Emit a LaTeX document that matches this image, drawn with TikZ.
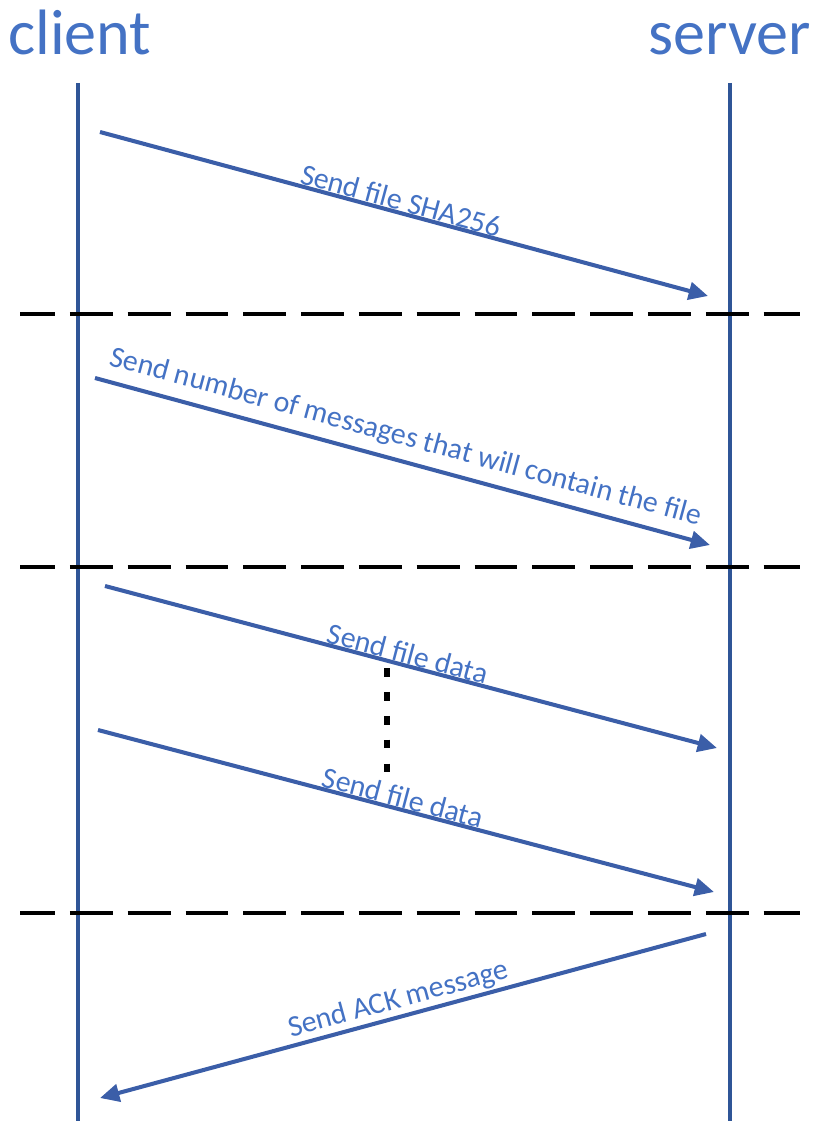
\documentclass[tikz,border=0pt]{standalone}
\usepackage{fontspec}
\setmainfont{Carlito}
\usetikzlibrary{arrows.meta,positioning}
\definecolor{lifeblue}{RGB}{47,85,151}
\definecolor{msgblue}{RGB}{59,94,168}
\definecolor{txtblue}{RGB}{68,114,196}
\tikzset{
	x=0.02cm, y=-0.02cm,
	head/.style = {inner sep=0pt, text=txtblue, font=\fontsize{36.5}{40}\selectfont},
	lifeline/.style = {lifeblue, line width=2.3pt},
	divider/.style = {black, line width=2.3pt, dash pattern=on 24.4pt off 8.5pt, dash phase=4.5pt},
	msg/.style = {msgblue, line width=2.3pt, -{Triangle[length=11pt,width=10pt]}},
	msgtxt/.style = {sloped, above, inner sep=2pt, text=txtblue, font=\fontsize{17}{20}\selectfont}
}
\begin{document}
\begin{tikzpicture}
            \useasboundingbox (0,0) rectangle (814,1121);
            % actors
            \node[head, anchor=base west] (client) at (8,55) {client};
            \node[head, anchor=base east] (server) at (811,55) {server};
            \coordinate (ct) at (78,83);
            \coordinate (cb) at (78,1121);
            \coordinate (st) at (730,83);
            \coordinate (sb) at (730,1121);
            \draw[lifeline] (ct) -- (cb);
            \draw[lifeline] (st) -- (sb);
            % phase separators
            \coordinate (d1l) at (20,314);
            \coordinate (d1r) at (800,314);
            \coordinate (d2l) at (20,567);
            \coordinate (d2r) at (800,567);
            \coordinate (d3l) at (20,913);
            \coordinate (d3r) at (800,913);
            \draw[divider] (d1l) -- (d1r);
            \draw[divider] (d2l) -- (d2r);
            \draw[divider] (d3l) -- (d3r);
            % messages
            \coordinate (m1a) at (100,132);
            \coordinate (m1b) at (708,296);
            \coordinate (m2a) at (95,378);
            \coordinate (m2b) at (710,545);
            \coordinate (m3a) at (105,586);
            \coordinate (m3b) at (717,748);
            \coordinate (m4a) at (98,730);
            \coordinate (m4b) at (714,892);
            \coordinate (m5a) at (100,1098);
            \coordinate (m5b) at (706,934);
            \draw[msg] (m1a) -- node[msgtxt, pos=0.49, inner sep=0pt] (l1) {Send file SHA256} (m1b);
            \draw[msg] (m2a) -- node[msgtxt, pos=0.495, inner sep=5pt] (l2) {Send number of messages that will contain the file} (m2b);
            \draw[msg] (m3a) -- node[msgtxt, pos=0.49, inner sep=0pt] (l3) {Send file data} (m3b);
            \draw[msg] (m4a) -- node[msgtxt, pos=0.49, inner sep=0pt] (l4) {Send file data} (m4b);
            \draw[msg, {Triangle[length=11pt,width=10pt]}-] (m5a) -- node[msgtxt, inner sep=1pt] (l5) {Send ACK message} (m5b);
            % more data messages
            \coordinate (dt) at (387,668);
            \coordinate (db) at (387,775);
            \draw[black, line width=3pt, dash pattern=on 5pt off 8.6pt] (dt) -- (db);
        \end{tikzpicture}
\end{document}
